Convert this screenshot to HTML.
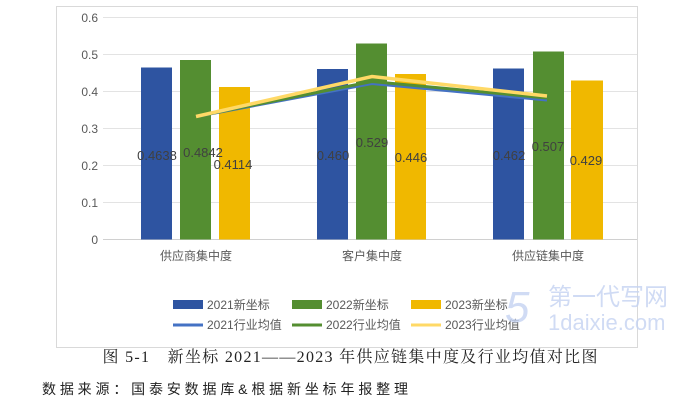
<!DOCTYPE html>
<html><head><meta charset="utf-8"><style>
body{margin:0;background:#fff;width:697px;height:405px;overflow:hidden;font-family:"Liberation Sans","Noto Sans CJK SC",sans-serif;}
</style></head><body>
<svg width="697" height="405" xmlns="http://www.w3.org/2000/svg" style="position:absolute;left:0;top:0">
<rect x="56.5" y="6.5" width="581" height="341" fill="#fff" stroke="#d9d9d9"/>
<g stroke="#e3e3e3" stroke-width="1">
<line x1="103" x2="637" y1="17.5" y2="17.5"/><line x1="103" x2="637" y1="54.5" y2="54.5"/>
<line x1="103" x2="637" y1="91.5" y2="91.5"/><line x1="103" x2="637" y1="128.5" y2="128.5"/>
<line x1="103" x2="637" y1="165.5" y2="165.5"/><line x1="103" x2="637" y1="202.5" y2="202.5"/>
</g>
<line x1="103" x2="637" y1="239.5" y2="239.5" stroke="#d0d0d0"/>
<g font-size="12" fill="#595959" text-anchor="end">
<text x="98" y="22">0.6</text><text x="98" y="59">0.5</text><text x="98" y="96">0.4</text>
<text x="98" y="133">0.3</text><text x="98" y="170">0.2</text><text x="98" y="207">0.1</text><text x="98" y="244">0</text>
</g>
<g>
<rect x="141" y="67.5" width="31" height="172" fill="#2e54a1"/>
<rect x="180" y="60" width="31" height="179.5" fill="#548e31"/>
<rect x="219" y="87" width="31" height="152.5" fill="#f0b800"/>
<rect x="317" y="69" width="31" height="170.5" fill="#2e54a1"/>
<rect x="356" y="43.5" width="31" height="196" fill="#548e31"/>
<rect x="395" y="74" width="31" height="165.5" fill="#f0b800"/>
<rect x="493" y="68.5" width="31" height="171" fill="#2e54a1"/>
<rect x="533" y="51.5" width="31" height="188" fill="#548e31"/>
<rect x="571" y="80.5" width="32" height="159" fill="#f0b800"/>
</g>
<polyline points="196,116.5 372,83.5 547,100" fill="none" stroke="#4472c4" stroke-width="3"/>
<polyline points="196,116.5 372,81.5 547,98" fill="none" stroke="#548e31" stroke-width="3"/>
<polyline points="196,116.5 372,76.5 547,96" fill="none" stroke="#ffd966" stroke-width="3.5"/>
<g font-size="13" fill="#404040" text-anchor="middle">
<text x="157" y="160">0.4638</text><text x="203" y="157">0.4842</text><text x="233" y="169">0.4114</text>
<text x="333" y="160">0.460</text><text x="372" y="147">0.529</text><text x="411" y="162">0.446</text>
<text x="509" y="160">0.462</text><text x="548" y="151">0.507</text><text x="586" y="165">0.429</text>
</g>
<g font-size="12" fill="#595959" text-anchor="middle">
<text x="196" y="260">供应商集中度</text><text x="372" y="260">客户集中度</text><text x="548" y="260">供应链集中度</text>
</g>
<g font-size="12" fill="#595959">
<rect x="173" y="300" width="30" height="9" fill="#2e54a1"/><text x="207" y="309">2021新坐标</text>
<rect x="292" y="300" width="30" height="9" fill="#548e31"/><text x="326" y="309">2022新坐标</text>
<rect x="411" y="300" width="30" height="9" fill="#f0b800"/><text x="445" y="309">2023新坐标</text>
<line x1="173" x2="203" y1="325" y2="325" stroke="#4472c4" stroke-width="3"/><text x="207" y="329">2021行业均值</text>
<line x1="292" x2="322" y1="325" y2="325" stroke="#548e31" stroke-width="3"/><text x="326" y="329">2022行业均值</text>
<line x1="411" x2="441" y1="325" y2="325" stroke="#ffd966" stroke-width="3"/><text x="445" y="329">2023行业均值</text>
</g>
<g fill="#c5d3f2" opacity="0.8" font-family="'Liberation Sans',sans-serif">
<text x="505" y="322" font-size="44" font-style="italic">5</text>
<text x="548" y="305" font-size="24" font-family="'Noto Sans CJK SC',sans-serif">第一代写网</text>
<text x="548" y="330" font-size="22">1daixie.com</text>
</g>
<text x="350" y="362" font-size="16" fill="#222" text-anchor="middle" textLength="495" font-family="'Liberation Serif','Noto Serif CJK SC',serif">图 5-1　新坐标 2021——2023 年供应链集中度及行业均值对比图</text>
<text x="42" y="394" font-size="14" fill="#222" textLength="366" font-family="'Liberation Sans','Noto Sans CJK SC',sans-serif">数据来源：国泰安数据库&amp;根据新坐标年报整理</text>
</svg>
</body></html>
